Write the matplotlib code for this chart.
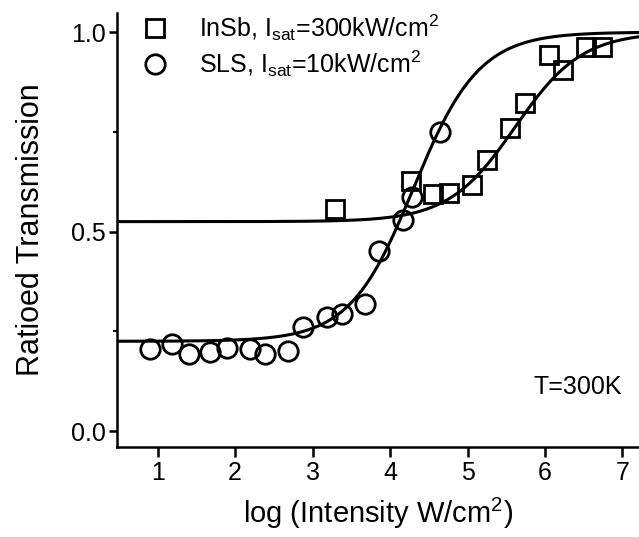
import numpy as np
import matplotlib
matplotlib.use("Agg")
import matplotlib.pyplot as plt
from matplotlib.ticker import FixedLocator

plt.rcParams['font.family'] = ['Liberation Sans', 'DejaVu Sans']
plt.rcParams['mathtext.fontset'] = 'custom'
plt.rcParams['mathtext.rm'] = 'Liberation Sans'
plt.rcParams['mathtext.it'] = 'Liberation Sans'

# ---- data ----
insb_logI = [3.29, 4.27, 4.55, 4.76, 5.06, 5.25, 5.55, 5.74, 6.05, 6.23, 6.53, 6.74]
insb_T = [0.556, 0.627, 0.594, 0.596, 0.617, 0.679, 0.759, 0.822, 0.942, 0.905, 0.962, 0.962]

sls_logI = [0.90, 1.18, 1.40, 1.68, 1.89, 2.19, 2.38, 2.68, 2.88, 3.19, 3.38, 3.68,
            3.86, 4.17, 4.28, 4.64]
sls_T = [0.205, 0.218, 0.193, 0.198, 0.208, 0.205, 0.193, 0.200, 0.261, 0.286, 0.293,
         0.318, 0.451, 0.529, 0.586, 0.749]

# saturable-absorber fit parameters (I_sat from legend, W/cm^2)
insb_T0, insb_Isat = 0.525, 3.0e5
sls_T0, sls_Isat = 0.225, 1.0e4

xticks = [1, 2, 3, 4, 5, 6, 7]
yticks = [0.0, 0.5, 1.0]
yminor = [0.25, 0.75]


def sat_fit(logI, T0, Isat):
    u = 10.0 ** np.asarray(logI) / Isat
    return T0 ** (1.0 / (1.0 + u))


fig = plt.figure(figsize=(6.39, 5.37), dpi=100)
ax = fig.add_axes([117 / 639, 1 - 447 / 537, 1 - 117 / 639, (447 - 13) / 537])

xfit = np.linspace(0.475, 7.213, 400)
ax.plot(xfit, sat_fit(xfit, insb_T0, insb_Isat), color='black', lw=2.2, zorder=2)
ax.plot(xfit, sat_fit(xfit, sls_T0, sls_Isat), color='black', lw=2.2, zorder=2)

ax.plot(insb_logI, insb_T, linestyle='none', marker='s', markersize=12.5,
        markerfacecolor='none', markeredgecolor='black', markeredgewidth=2.0,
        label=r'InSb, I$_{\mathregular{sat}}$=300kW/cm$^{\mathregular{2}}$', zorder=3)
ax.plot(sls_logI, sls_T, linestyle='none', marker='o', markersize=14,
        markerfacecolor='none', markeredgecolor='black', markeredgewidth=2.0,
        label=r'SLS, I$_{\mathregular{sat}}$=10kW/cm$^{\mathregular{2}}$', zorder=3)

ax.set_xlim(0.475, 7.213)
ax.set_ylim(-0.040, 1.048)
ax.set_xticks(xticks)
ax.set_yticks(yticks)
ax.set_yticklabels(['0.0', '0.5', '1.0'])
ax.yaxis.set_minor_locator(FixedLocator(yminor))

for s in ['top', 'right']:
    ax.spines[s].set_visible(False)
for s in ['left', 'bottom']:
    ax.spines[s].set_linewidth(1.8)

ax.tick_params(axis='both', which='major', direction='out', width=1.8, labelsize=18,
               colors='black')
ax.tick_params(axis='y', which='major', length=6, pad=2)
ax.tick_params(axis='x', which='major', length=7, pad=3)
ax.tick_params(axis='y', which='minor', length=3, width=1.4)

ax.set_xlabel(r'log (Intensity W/cm$^{\mathregular{2}}$)', fontsize=21, labelpad=8)
ax.set_ylabel('Ratioed Transmission', fontsize=22, labelpad=18)

ax.text(0.883, 0.138, 'T=300K', transform=ax.transAxes, fontsize=18,
        ha='center', va='center')

leg = ax.legend(loc='upper left', bbox_to_anchor=(0.03, 1.025), frameon=False,
                fontsize=18, handlelength=1.0, handletextpad=1.25, labelspacing=0.22,
                borderaxespad=0.0)

fig.savefig('out.png', dpi=100)
